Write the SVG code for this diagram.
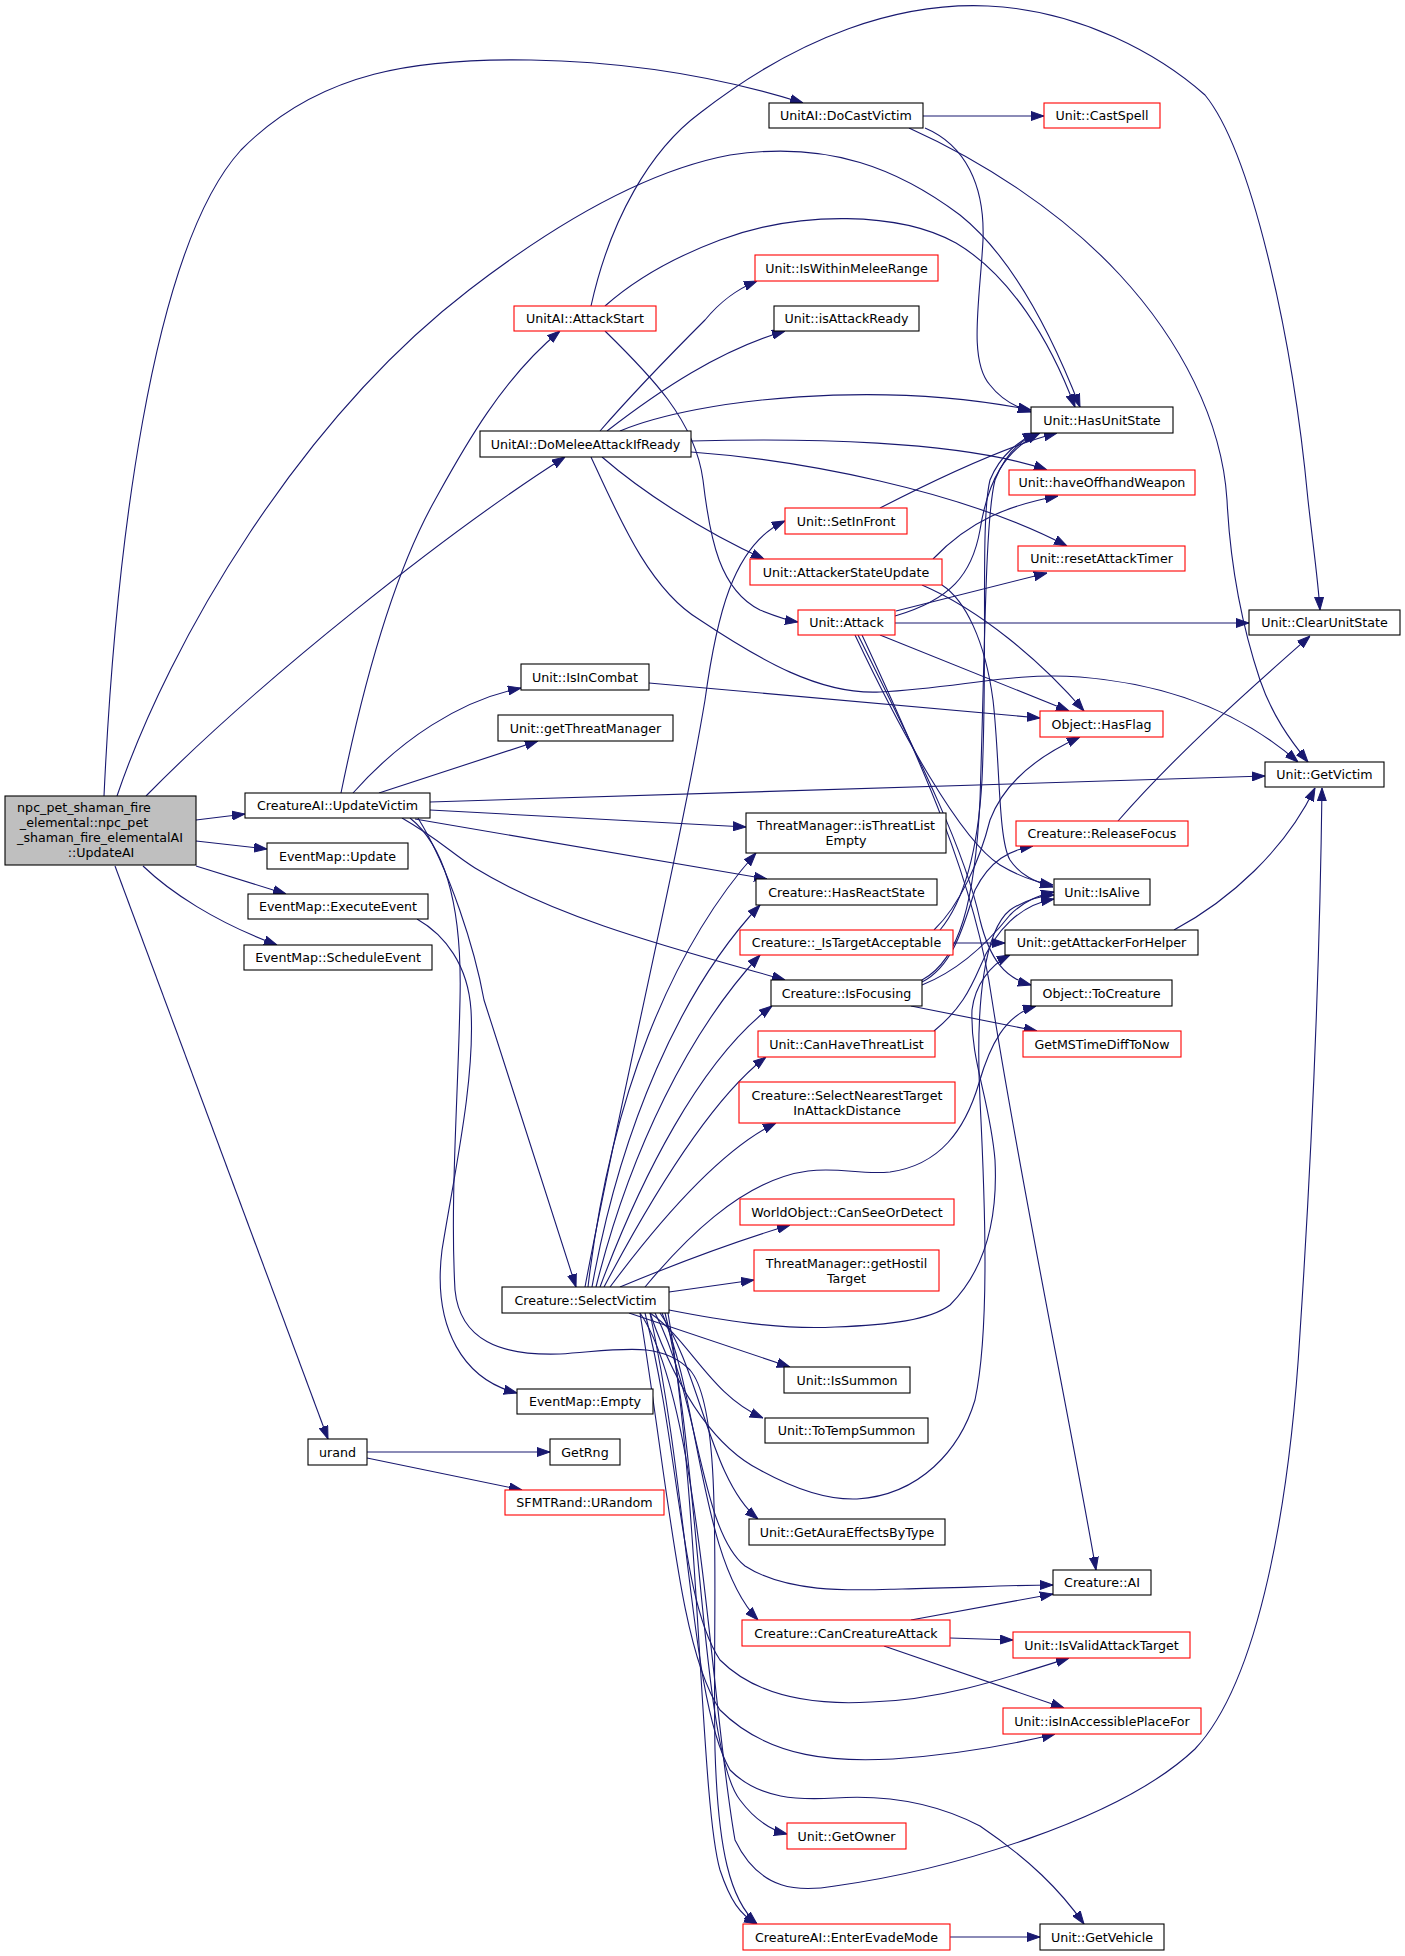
<svg xmlns="http://www.w3.org/2000/svg" width="1405" height="1956" viewBox="0 0 1405 1956">
<style>
.n rect{fill:#fff;stroke:#000;stroke-width:1.1}
.r rect{stroke:#f00}
.g rect{fill:#bfbfbf}
.n text{font-family:"DejaVu Sans",sans-serif;font-size:12.65px;fill:#000;text-anchor:middle}
.e path{fill:none;stroke:#191970;stroke-width:1.1;marker-end:url(#a)}
</style>
<defs>
<marker id="a" markerUnits="userSpaceOnUse" viewBox="0 0 13 10" markerWidth="13" markerHeight="10" refX="13" refY="5" orient="auto">
<path d="M0,0.5 L13,5 L0,9.5 z" fill="#191970" stroke="#191970" stroke-width="1"/>
</marker>
</defs>
<rect width="1405" height="1956" fill="#fff"/>
<g id="edges" class="e">
<path d="M104,796 C 115,560 150,250 241,150 C 320,70 420,58 531,60 C 640,62 730,80 803,103"/>
<path d="M117,796 C 170,640 300,420 469,290 C 560,220 650,170 730,155 C 830,140 900,170 960,215 C 1010,255 1050,330 1080,407"/>
<path d="M146,796 C 260,680 450,530 565,457"/>
<path d="M196,820 L245,814"/>
<path d="M196,841 L267,849"/>
<path d="M196,866 L286,894"/>
<path d="M143,866 C 170,892 215,922 277,945"/>
<path d="M115,866 L328,1439"/>
<path d="M341,793 C 360,700 390,580 435,500 C 460,455 500,380 560,331"/>
<path d="M353,793 C 400,740 460,700 521,688"/>
<path d="M379,793 L538,741"/>
<path d="M430,802 L1265,776"/>
<path d="M430,810 L746,827"/>
<path d="M415,819 L767,879"/>
<path d="M402,818 C 440,840 450,852 475,868 C 560,920 680,950 785,980"/>
<path d="M418,818 C 450,870 475,950 484,1000 L576,1287"/>
<path d="M410,818 C 450,850 462,920 460,1000 C 458,1100 450,1200 455,1290 C 460,1340 500,1356 560,1354 C 620,1350 660,1340 690,1370 C 725,1410 712,1600 715,1750 C 718,1850 730,1900 757,1924"/>
<path d="M417,919 C 445,935 468,965 471,1010 C 475,1080 455,1170 442,1250 C 432,1330 465,1380 517,1393"/>
<path d="M591,306 C 610,220 650,150 700,113 C 800,35 900,2 988,6 C 1080,10 1160,55 1205,95 C 1250,150 1292,330 1308,500 C 1313,545 1318,580 1320,610"/>
<path d="M605,306 C 640,275 680,255 720,240 C 800,210 900,212 956,243 C 1010,275 1050,340 1075,407"/>
<path d="M605,331 C 650,375 695,420 703,480 C 710,540 720,590 760,610 C 775,616 785,620 798,622"/>
<path d="M600,431 C 640,385 680,345 705,320 C 720,302 735,290 757,281"/>
<path d="M607,431 C 660,390 720,350 785,331"/>
<path d="M620,431 C 700,398 880,380 1031,410"/>
<path d="M691,441 C 800,438 960,440 1047,470"/>
<path d="M691,452 C 800,460 960,490 1067,546"/>
<path d="M602,457 C 640,490 700,530 764,559"/>
<path d="M591,457 C 620,520 650,590 700,620 C 760,660 820,695 880,692 C 960,688 1010,672 1080,677 C 1180,685 1250,720 1298,762"/>
<path d="M923,116 L1044,116"/>
<path d="M925,128 C 965,145 985,185 983,240 C 980,300 968,360 990,385 C 1000,398 1012,406 1031,412"/>
<path d="M909,128 C 980,160 1060,210 1120,275 C 1180,340 1222,420 1227,500 C 1230,560 1240,620 1260,680 C 1272,715 1290,740 1308,762"/>
<path d="M880,508 C 950,472 1010,445 1057,433"/>
<path d="M895,616 C 950,600 972,575 980,530 C 988,480 1005,450 1040,433"/>
<path d="M933,559 C 970,520 1010,505 1058,496"/>
<path d="M896,611 L1047,573"/>
<path d="M895,623 L1249,623"/>
<path d="M880,635 L1069,711"/>
<path d="M855,635 C 900,730 960,840 1000,865 C 1020,877 1035,882 1053,885"/>
<path d="M858,635 C 920,760 965,850 980,920 C 990,960 1005,978 1031,985"/>
<path d="M862,635 C 920,760 975,880 992,1000 C 1020,1180 1070,1420 1096,1570"/>
<path d="M922,585 C 980,610 1040,660 1084,711"/>
<path d="M942,585 C 965,600 985,640 993,700 C 1000,760 998,840 1010,860 C 1020,875 1035,882 1053,887"/>
<path d="M649,683 L1040,718"/>
<path d="M1118,821 C 1180,750 1260,680 1310,636"/>
<path d="M1174,930 C 1230,900 1285,850 1315,788"/>
<path d="M640,1313 C 700,1400 710,1700 735,1840 C 760,1892 800,1892 835,1886 C 950,1870 1120,1820 1195,1749 C 1260,1680 1290,1500 1300,1333 C 1312,1150 1320,950 1322,788"/>
<path d="M585,1287 C 620,1100 680,850 705,700 C 716,620 732,545 785,521"/>
<path d="M588,1287 C 610,1100 670,950 756,853"/>
<path d="M592,1287 C 620,1130 680,990 760,905"/>
<path d="M596,1287 C 630,1150 690,1030 760,955"/>
<path d="M600,1287 C 640,1180 700,1060 772,1006"/>
<path d="M604,1287 C 650,1200 710,1100 766,1057"/>
<path d="M610,1287 C 660,1220 720,1150 776,1123"/>
<path d="M620,1287 C 680,1262 740,1240 790,1225"/>
<path d="M669,1292 L754,1280"/>
<path d="M645,1287 C 680,1245 740,1180 808,1171 C 840,1167 860,1175 890,1172 C 940,1165 965,1130 979,1083 C 990,1045 1005,1015 1036,1006"/>
<path d="M669,1310 C 720,1320 780,1330 835,1327 C 890,1325 930,1320 950,1305 C 985,1270 998,1220 995,1160 C 990,1100 970,1060 972,1010 C 975,985 990,965 1010,955"/>
<path d="M650,1313 C 680,1400 720,1450 760,1470 C 800,1492 830,1500 857,1499 C 920,1495 960,1450 975,1400 C 990,1330 985,1200 980,1100 C 975,1000 985,930 1010,910 C 1025,900 1040,896 1054,895"/>
<path d="M629,1313 L790,1367"/>
<path d="M650,1313 C 690,1340 710,1395 763,1418"/>
<path d="M660,1313 C 700,1370 710,1480 758,1519"/>
<path d="M655,1313 C 700,1400 700,1530 745,1566 C 790,1595 860,1590 902,1589 C 960,1588 1010,1585 1053,1585"/>
<path d="M662,1313 C 700,1400 700,1560 758,1620"/>
<path d="M645,1313 C 680,1450 680,1600 720,1660 C 760,1700 820,1705 871,1702 C 940,1700 1000,1680 1069,1658"/>
<path d="M640,1313 C 670,1500 680,1650 720,1710 C 770,1760 840,1762 893,1759 C 950,1755 1010,1745 1055,1734"/>
<path d="M665,1313 C 700,1450 700,1750 740,1800 C 755,1820 770,1830 787,1834"/>
<path d="M650,1313 C 690,1500 690,1700 730,1770 C 760,1800 800,1800 835,1798 C 880,1795 930,1800 980,1826 C 1030,1860 1060,1890 1084,1924"/>
<path d="M668,1313 C 700,1500 700,1800 720,1870 C 730,1900 740,1915 757,1924"/>
<path d="M911,1620 L1053,1594"/>
<path d="M950,1638 L1013,1640"/>
<path d="M884,1646 L1064,1708"/>
<path d="M950,1937 L1040,1937"/>
<path d="M367,1452 L550,1452"/>
<path d="M367,1458 L522,1490"/>
<path d="M911,1006 L1037,1031"/>
<path d="M922,985 C 960,970 990,940 1010,915 C 1025,900 1040,895 1054,892"/>
<path d="M922,982 C 955,965 965,920 975,890 C 990,860 1010,850 1033,846"/>
<path d="M922,980 C 960,960 975,900 980,800 C 985,650 985,520 995,480 C 1005,455 1020,440 1038,433"/>
<path d="M953,943 L1005,943"/>
<path d="M934,930 C 960,905 980,860 990,820 C 1005,780 1040,755 1080,737"/>
<path d="M940,930 C 965,900 978,850 982,780 C 988,650 980,520 990,480 C 1000,455 1020,440 1036,433"/>
<path d="M934,1031 C 960,1010 970,990 980,967 C 995,930 1020,905 1054,899"/>
</g>
<g id="n_main" class="n g"><rect x="5" y="796" width="191" height="69"/><text x="84" y="811.5">npc_pet_shaman_fire</text><text x="84" y="826.5">_elemental::npc_pet</text><text x="100" y="841.5">_shaman_fire_elementalAI</text><text x="101" y="856.5">::UpdateAI</text></g>
<g id="n_UpdateVictim" class="n"><rect x="245" y="793" width="185" height="25"/><text x="337.5" y="810">CreatureAI::UpdateVictim</text></g>
<g id="n_EvUpdate" class="n"><rect x="267" y="843" width="141" height="26"/><text x="337.5" y="860.5">EventMap::Update</text></g>
<g id="n_ExecuteEvent" class="n"><rect x="248" y="894" width="180" height="25"/><text x="338" y="911">EventMap::ExecuteEvent</text></g>
<g id="n_ScheduleEvent" class="n"><rect x="244" y="945" width="188" height="25"/><text x="338" y="962">EventMap::ScheduleEvent</text></g>
<g id="n_urand" class="n"><rect x="308" y="1439" width="59" height="26"/><text x="337.5" y="1456.5">urand</text></g>
<g id="n_AttackStart" class="n r"><rect x="514" y="306" width="142" height="25"/><text x="585" y="323">UnitAI::AttackStart</text></g>
<g id="n_DoMelee" class="n"><rect x="480" y="431" width="211" height="26"/><text x="585.5" y="448.5">UnitAI::DoMeleeAttackIfReady</text></g>
<g id="n_IsInCombat" class="n"><rect x="521" y="664" width="128" height="26"/><text x="585" y="681.5">Unit::IsInCombat</text></g>
<g id="n_getThreatManager" class="n"><rect x="498" y="715" width="175" height="26"/><text x="585.5" y="732.5">Unit::getThreatManager</text></g>
<g id="n_SelectVictim" class="n"><rect x="502" y="1287" width="167" height="26"/><text x="585.5" y="1304.5">Creature::SelectVictim</text></g>
<g id="n_EvEmpty" class="n"><rect x="517" y="1389" width="136" height="25"/><text x="585" y="1406">EventMap::Empty</text></g>
<g id="n_GetRng" class="n"><rect x="550" y="1439" width="70" height="26"/><text x="585" y="1456.5">GetRng</text></g>
<g id="n_URandom" class="n r"><rect x="505" y="1490" width="159" height="25"/><text x="584.5" y="1507">SFMTRand::URandom</text></g>
<g id="n_DoCastVictim" class="n"><rect x="769" y="103" width="154" height="25"/><text x="846" y="120">UnitAI::DoCastVictim</text></g>
<g id="n_IsWithinMeleeRange" class="n r"><rect x="755" y="255" width="183" height="26"/><text x="846.5" y="272.5">Unit::IsWithinMeleeRange</text></g>
<g id="n_isAttackReady" class="n"><rect x="774" y="306" width="145" height="25"/><text x="846.5" y="323">Unit::isAttackReady</text></g>
<g id="n_SetInFront" class="n r"><rect x="785" y="508" width="122" height="26"/><text x="846" y="525.5">Unit::SetInFront</text></g>
<g id="n_AttackerStateUpdate" class="n r"><rect x="750" y="559" width="192" height="26"/><text x="846" y="576.5">Unit::AttackerStateUpdate</text></g>
<g id="n_Attack" class="n r"><rect x="798" y="610" width="97" height="25"/><text x="846.5" y="627">Unit::Attack</text></g>
<g id="n_isThreatListEmpty" class="n"><rect x="746" y="813" width="200" height="40"/><text x="846" y="830">ThreatManager::isThreatList</text><text x="846" y="845">Empty</text></g>
<g id="n_HasReactState" class="n"><rect x="756" y="879" width="181" height="26"/><text x="846.5" y="896.5">Creature::HasReactState</text></g>
<g id="n_IsTargetAcceptable" class="n r"><rect x="740" y="930" width="213" height="25"/><text x="846.5" y="947">Creature::_IsTargetAcceptable</text></g>
<g id="n_IsFocusing" class="n"><rect x="771" y="980" width="151" height="26"/><text x="846.5" y="997.5">Creature::IsFocusing</text></g>
<g id="n_CanHaveThreatList" class="n r"><rect x="758" y="1031" width="177" height="26"/><text x="846.5" y="1048.5">Unit::CanHaveThreatList</text></g>
<g id="n_SelectNearestTarget" class="n r"><rect x="739" y="1082" width="216" height="41"/><text x="847" y="1099.5">Creature::SelectNearestTarget</text><text x="847" y="1114.5">InAttackDistance</text></g>
<g id="n_CanSeeOrDetect" class="n r"><rect x="740" y="1199" width="214" height="26"/><text x="847" y="1216.5">WorldObject::CanSeeOrDetect</text></g>
<g id="n_getHostilTarget" class="n r"><rect x="754" y="1250" width="185" height="41"/><text x="846.5" y="1267.5">ThreatManager::getHostil</text><text x="846.5" y="1282.5">Target</text></g>
<g id="n_IsSummon" class="n"><rect x="784" y="1367" width="126" height="26"/><text x="847" y="1384.5">Unit::IsSummon</text></g>
<g id="n_ToTempSummon" class="n"><rect x="765" y="1418" width="163" height="25"/><text x="846.5" y="1435">Unit::ToTempSummon</text></g>
<g id="n_GetAuraEffectsByType" class="n"><rect x="749" y="1519" width="196" height="26"/><text x="847" y="1536.5">Unit::GetAuraEffectsByType</text></g>
<g id="n_CanCreatureAttack" class="n r"><rect x="742" y="1620" width="208" height="26"/><text x="846" y="1637.5">Creature::CanCreatureAttack</text></g>
<g id="n_GetOwner" class="n r"><rect x="787" y="1823" width="119" height="26"/><text x="846.5" y="1840.5">Unit::GetOwner</text></g>
<g id="n_EnterEvadeMode" class="n r"><rect x="743" y="1924" width="207" height="26"/><text x="846.5" y="1941.5">CreatureAI::EnterEvadeMode</text></g>
<g id="n_CastSpell" class="n r"><rect x="1044" y="103" width="116" height="25"/><text x="1102" y="120">Unit::CastSpell</text></g>
<g id="n_HasUnitState" class="n"><rect x="1031" y="407" width="142" height="26"/><text x="1102" y="424.5">Unit::HasUnitState</text></g>
<g id="n_haveOffhandWeapon" class="n r"><rect x="1009" y="470" width="186" height="25"/><text x="1102" y="487">Unit::haveOffhandWeapon</text></g>
<g id="n_resetAttackTimer" class="n r"><rect x="1018" y="546" width="167" height="25"/><text x="1101.5" y="563">Unit::resetAttackTimer</text></g>
<g id="n_HasFlag" class="n r"><rect x="1040" y="711" width="123" height="26"/><text x="1101.5" y="728.5">Object::HasFlag</text></g>
<g id="n_ReleaseFocus" class="n r"><rect x="1016" y="821" width="172" height="25"/><text x="1102" y="838">Creature::ReleaseFocus</text></g>
<g id="n_IsAlive" class="n"><rect x="1054" y="879" width="96" height="26"/><text x="1102" y="896.5">Unit::IsAlive</text></g>
<g id="n_getAttackerForHelper" class="n"><rect x="1005" y="930" width="193" height="25"/><text x="1101.5" y="947">Unit::getAttackerForHelper</text></g>
<g id="n_ToCreature" class="n"><rect x="1031" y="980" width="141" height="26"/><text x="1101.5" y="997.5">Object::ToCreature</text></g>
<g id="n_GetMSTimeDiffToNow" class="n r"><rect x="1023" y="1031" width="158" height="26"/><text x="1102" y="1048.5">GetMSTimeDiffToNow</text></g>
<g id="n_AI" class="n"><rect x="1053" y="1570" width="98" height="25"/><text x="1102" y="1587">Creature::AI</text></g>
<g id="n_IsValidAttackTarget" class="n r"><rect x="1013" y="1632" width="177" height="26"/><text x="1101.5" y="1649.5">Unit::IsValidAttackTarget</text></g>
<g id="n_isInAccessiblePlaceFor" class="n r"><rect x="1003" y="1708" width="198" height="26"/><text x="1102" y="1725.5">Unit::isInAccessiblePlaceFor</text></g>
<g id="n_GetVehicle" class="n"><rect x="1040" y="1924" width="124" height="26"/><text x="1102" y="1941.5">Unit::GetVehicle</text></g>
<g id="n_ClearUnitState" class="n"><rect x="1249" y="610" width="151" height="25"/><text x="1324.5" y="627">Unit::ClearUnitState</text></g>
<g id="n_GetVictim" class="n"><rect x="1265" y="762" width="119" height="25"/><text x="1324.5" y="779">Unit::GetVictim</text></g>
</svg>
